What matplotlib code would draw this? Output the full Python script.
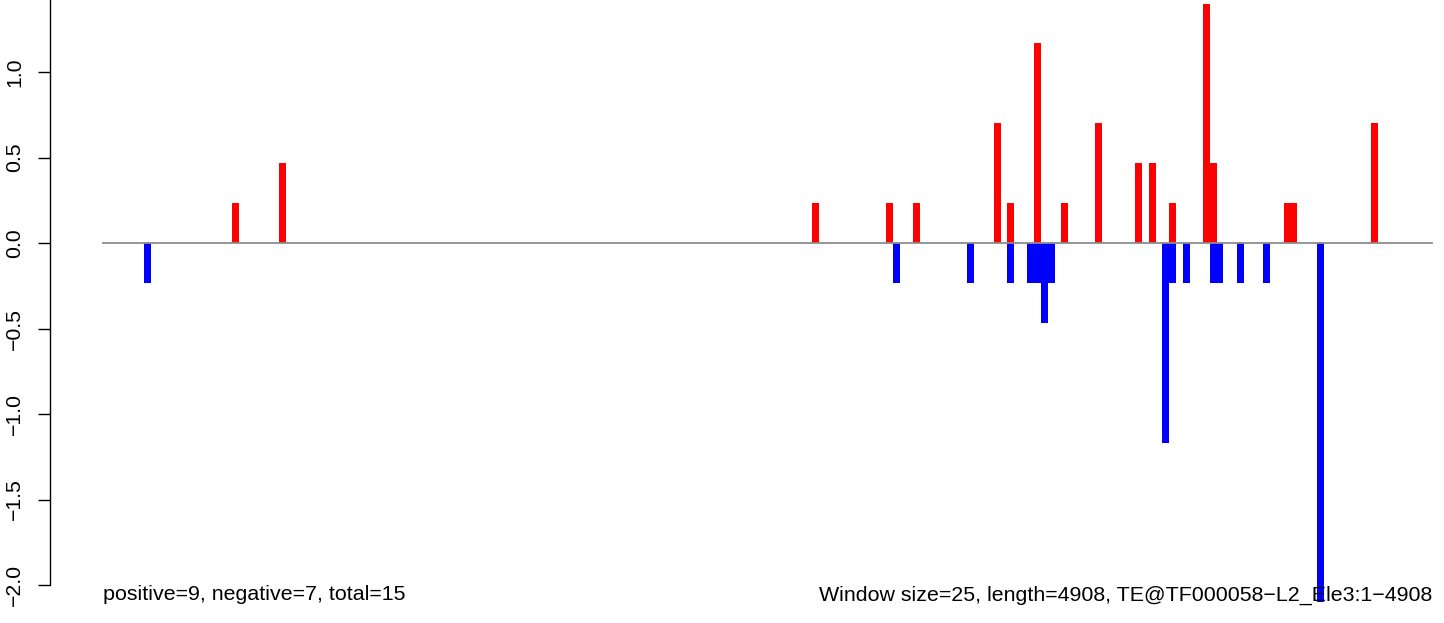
import numpy as np
import matplotlib
matplotlib.use("Agg")
import matplotlib.pyplot as plt

plt.rcParams['font.family'] = ['Liberation Sans', 'DejaVu Sans']

# window start positions (bp) and scores
win_size = 25
seq_len = 4908

pos_start = [476, 650, 2618, 2892, 2991, 3290, 3338, 3438, 3538, 3663,
             3811, 3863, 3937, 4062, 4088, 4361, 4385, 4683]
pos_score = [0.233, 0.467, 0.233, 0.233, 0.233, 0.700, 0.233, 1.167, 0.233, 0.700,
             0.467, 0.467, 0.233, 1.400, 0.467, 0.233, 0.233, 0.700]

neg_start = [151, 2917, 3191, 3338, 3412, 3438, 3464, 3490, 3911, 3937,
             3988, 4088, 4113, 4188, 4284, 4485]
neg_score = [-0.233, -0.233, -0.233, -0.233, -0.233, -0.233, -0.467, -0.233, -1.167, -0.233,
             -0.233, -0.233, -0.233, -0.233, -0.233, -2.100]

y_ticks = [-2.0, -1.5, -1.0, -0.5, 0.0, 0.5, 1.0]

left_note = "positive=9, negative=7, total=15"
right_note = "Window size=25, length=4908, TE@TF000058\u2212L2_Ele3:1\u22124908"

W, H = 1444, 623
fig = plt.figure(figsize=(W / 100, H / 100), dpi=100)
ax = fig.add_axes([50 / W, 0, 1 - 50 / W, 1])

# px -> bp mapping: x=103 is 0, x=1432 is seq_len
bp_per_px = seq_len / 1329.0
ax.set_xlim((50 - 103) * bp_per_px, (W - 103) * bp_per_px)
ax.set_ylim(-(H - 243) / 171.0, 243 / 171.0)

ax.bar(pos_start, pos_score, width=win_size, align='edge', color='#ff0000',
       linewidth=0, antialiased=False)
ax.bar(neg_start, neg_score, width=win_size, align='edge', color='#0000ff',
       linewidth=0, antialiased=False)
ax.plot([0, seq_len], [0, 0], color='#8c8c8c', lw=1.3, zorder=3)

for s in ['top', 'right', 'bottom']:
    ax.spines[s].set_visible(False)
ax.spines['left'].set_bounds(-2.0, 1.6)
ax.spines['left'].set_linewidth(1.0)
ax.set_xticks([])
ax.set_yticks(y_ticks)
ax.set_yticklabels(["%.1f" % v if v >= 0 else "\u2212%.1f" % -v for v in y_ticks],
                   rotation=90, va='center', fontsize=15.3)
ax.tick_params(axis='y', length=8.6, width=1.0, pad=10)

fig.text(103 / W, 1 - 595 / H, left_note, ha='left', va='center', fontsize=15.4)
fig.text(1432 / W, 1 - 595 / H, right_note, ha='right', va='center', fontsize=15.4)

fig.savefig("out.png", dpi=100)
